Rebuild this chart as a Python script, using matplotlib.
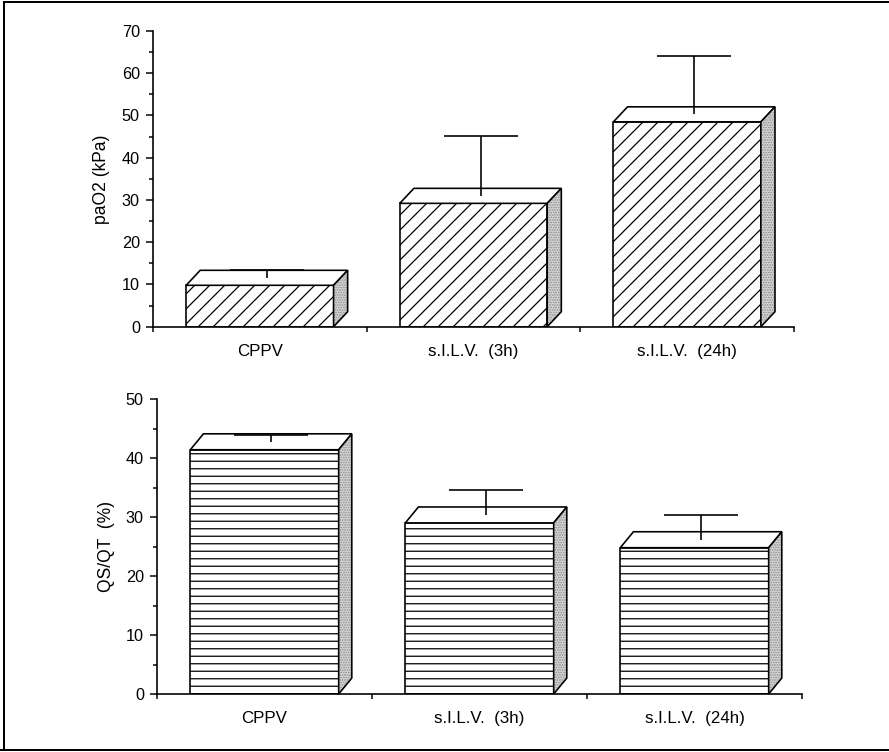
import matplotlib
matplotlib.use("Agg")
import matplotlib.pyplot as plt
from matplotlib.patches import Polygon
from matplotlib.lines import Line2D
from matplotlib.ticker import MultipleLocator

# ---- data ----
categories = ["CPPV", "s.I.L.V.  (3h)", "s.I.L.V.  (24h)"]
pao2_mean = [9.8, 29.2, 48.5]
pao2_sd = [3.6, 16.0, 15.7]
qsqt_mean = [41.4, 29.0, 24.8]
qsqt_sd = [2.5, 5.6, 5.5]

DPI = 90
plt.rcParams["font.family"] = ["Liberation Sans", "DejaVu Sans"]
plt.rcParams["hatch.linewidth"] = 1.0

fig = plt.figure(figsize=(889 / DPI, 752 / DPI), dpi=DPI)

BAR_W = 0.69
CAP_HALF = 0.173


def draw_panel(ax, means, sds, ymax, ylabel, hatch, dx, dy, label_x):
    xs = [i + 0.5 for i in range(len(means))]
    ax.set_xlim(0, 3)
    ax.set_ylim(0, ymax)
    ax.bar(xs, means, width=BAR_W, facecolor="white", edgecolor="black",
           hatch=hatch, linewidth=1.3, zorder=2)
    for x, m, s in zip(xs, means, sds):
        xl, xr = x - BAR_W / 2, x + BAR_W / 2
        # top face
        ax.add_patch(Polygon([(xl, m), (xl + dx, m + dy), (xr + dx, m + dy), (xr, m)],
                             closed=True, facecolor="white", edgecolor="black",
                             linewidth=1.3, zorder=3, clip_on=False))
        # side face (stippled)
        side = [(xr, 0), (xr + dx, dy), (xr + dx, m + dy), (xr, m)]
        ax.add_patch(Polygon(side, closed=True, facecolor="#d9d9d9", edgecolor="#8a8a8a",
                             hatch="......", linewidth=0, zorder=3, clip_on=False))
        ax.add_patch(Polygon(side, closed=True, facecolor="none", edgecolor="black",
                             linewidth=1.3, zorder=3.5, clip_on=False))
        # error bar from middle of the top face
        ex = x + dx / 2
        ax.vlines(ex, m + dy / 2, m + s, color="black", linewidth=1.3, zorder=4)
        ax.hlines(m + s, ex - CAP_HALF, ex + CAP_HALF, color="black",
                  linewidth=1.3, zorder=4)

    for side in ("top", "right"):
        ax.spines[side].set_visible(False)
    for side in ("left", "bottom"):
        ax.spines[side].set_linewidth(1.3)

    ax.set_yticks(range(0, ymax + 1, 10))
    ax.yaxis.set_minor_locator(MultipleLocator(5))
    ax.tick_params(axis="y", which="major", length=5.5, width=1.2, pad=5,
                   labelsize=13, direction="out")
    ax.tick_params(axis="y", which="minor", length=3.5, width=1.2, direction="out")
    ax.set_xticks([0, 1, 2, 3])
    ax.set_xticklabels([])
    ax.tick_params(axis="x", which="major", length=4, width=1.2, direction="out")
    ax.set_xticks(xs, labels=categories, minor=True)
    ax.tick_params(axis="x", which="minor", length=0, pad=13.5, labelsize=13.5)
    ax.set_ylabel(ylabel, fontsize=14)
    ax.yaxis.set_label_coords(label_x, 0.5)


ax1 = fig.add_axes([153 / 889, 1 - 326.7 / 752, (794 - 153) / 889, (326.7 - 31) / 752])
draw_panel(ax1, pao2_mean, pao2_sd, 70, "paO2 (kPa)", "//", 0.066, 3.55, -0.067)

ax2 = fig.add_axes([157 / 889, 1 - 694 / 752, (802 - 157) / 889, (694 - 399) / 752])
draw_panel(ax2, qsqt_mean, qsqt_sd, 50, "QS/QT  (%)", "--", 0.061, 2.7, -0.065)

# frame lines of the scanned figure
fig.add_artist(Line2D([4 / 889, 1.0], [1 - 2 / 752, 1 - 2 / 752],
                      transform=fig.transFigure, color="black", linewidth=1.6))
fig.add_artist(Line2D([4 / 889, 4 / 889], [1 - 2 / 752, 2 / 752],
                      transform=fig.transFigure, color="black", linewidth=1.6))
fig.add_artist(Line2D([0.0, 1.0], [2 / 752, 2 / 752],
                      transform=fig.transFigure, color="black", linewidth=1.6))

fig.savefig("out.png", dpi=DPI)
